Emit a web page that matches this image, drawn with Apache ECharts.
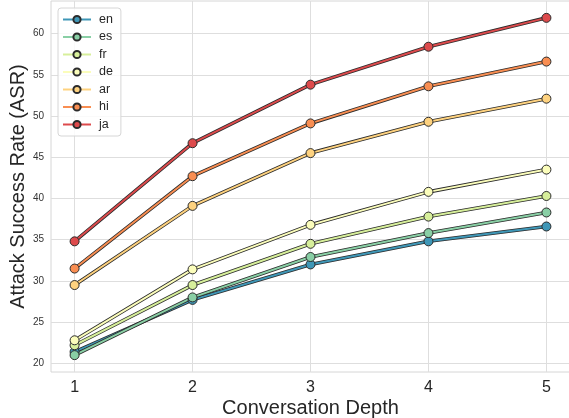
<!DOCTYPE html>
<html>
<head>
<meta charset="utf-8">
<script src="https://cdn.jsdelivr.net/npm/echarts@6/dist/echarts.min.js"></script>
<style>
html,body{margin:0;padding:0;background:#fff;}
#c{width:569px;height:418px;}
</style>
</head>
<body>
<div id="c"></div>
<script>
// Data
const depths = [1, 2, 3, 4, 5];
const languages = ['en', 'es', 'fr', 'de', 'ar', 'hi', 'ja'];
const en = [21.4, 27.7, 32.0, 34.8, 36.6];
const es = [21.0, 28.0, 32.9, 35.8, 38.3];
const fr = [22.2, 29.5, 34.5, 37.8, 40.3];
const de = [22.8, 31.4, 36.8, 40.8, 43.5];
const ar = [29.5, 39.1, 45.5, 49.3, 52.1];
const hi = [31.5, 42.7, 49.1, 53.6, 56.6];
const ja = [34.8, 46.7, 53.8, 58.4, 61.9];
const xTicks = [1, 2, 3, 4, 5];
const yTicks = [20, 25, 30, 35, 40, 45, 50, 55, 60];

const values = { en, es, fr, de, ar, hi, ja };
const colors = {
  en: '#3f97b7', es: '#89cfa5', fr: '#d7ef9b', de: '#fbfdbb',
  ar: '#fed27f', hi: '#f98e52', ja: '#dd4a4c'
};

const allVals = [].concat(en, es, fr, de, ar, hi, ja);
const vMin = Math.min(...allVals), vMax = Math.max(...allVals);
const pad = (vMax - vMin) * 0.05;
const xPad = (depths[depths.length - 1] - depths[0]) * 0.05;

const series = [];
languages.forEach(lang => {
  const pts = depths.map((d, i) => [d, values[lang][i]]);
  series.push({
    name: lang + '_outline', type: 'line', data: pts,
    showSymbol: false, symbol: 'none', silent: true,
    lineStyle: { color: '#2b2b2b', width: 3.6 },
    emphasis: { disabled: true }
  });
  series.push({
    name: lang, type: 'line', data: pts,
    symbol: 'circle', symbolSize: 9,
    itemStyle: { color: colors[lang], borderColor: '#2b2b2b', borderWidth: 1 },
    lineStyle: { color: colors[lang], width: 2 },
    emphasis: { disabled: true }
  });
});

const chart = echarts.init(document.getElementById('c'), null, { renderer: 'canvas' });
chart.setOption({
  animation: false,
  backgroundColor: '#fff',
  grid: { left: 51, top: 1, width: 519, height: 371, show: true, borderColor: '#d6d6d6', borderWidth: 1, containLabel: false, outerBoundsMode: 'none' },
  xAxis: {
    type: 'value', min: depths[0] - xPad, max: depths[depths.length - 1] + xPad,
    name: 'Conversation Depth', nameLocation: 'middle', nameGap: 26, nameMoveOverlap: false,
    nameTextStyle: { fontFamily: 'Liberation Sans', fontSize: 20, color: '#262626' },
    axisLine: { show: false }, axisTick: { show: false, customValues: xTicks },
    axisLabel: { customValues: xTicks, fontFamily: 'Liberation Sans', fontSize: 16, color: '#262626', margin: 8 },
    splitLine: { show: true, lineStyle: { color: '#dedede', width: 1 } }
  },
  yAxis: {
    type: 'value', min: vMin - pad, max: vMax + pad,
    name: 'Attack Success Rate (ASR)', nameLocation: 'middle', nameGap: 23, nameMoveOverlap: false,
    nameTextStyle: { fontFamily: 'Liberation Sans', fontSize: 20, color: '#262626' },
    axisLine: { show: false }, axisTick: { show: false, customValues: yTicks },
    axisLabel: { customValues: yTicks, fontFamily: 'Liberation Sans', fontSize: 10, color: '#333', margin: 7 },
    splitLine: { show: true, lineStyle: { color: '#dedede', width: 1 } }
  },
  legend: {
    data: languages, orient: 'vertical', left: 58, top: 8,
    itemWidth: 28, itemHeight: 9, itemGap: 4.5,
    backgroundColor: 'rgba(255,255,255,0.85)', borderColor: '#d6d6d6', borderWidth: 1, borderRadius: 3,
    padding: [5, 8, 5, 4],
    textStyle: { fontFamily: 'Liberation Sans', fontSize: 12.5, color: '#262626', lineHeight: 13, padding: [0, 0, 0, 3] }
  },
  series: series
});
</script>
</body>
</html>
